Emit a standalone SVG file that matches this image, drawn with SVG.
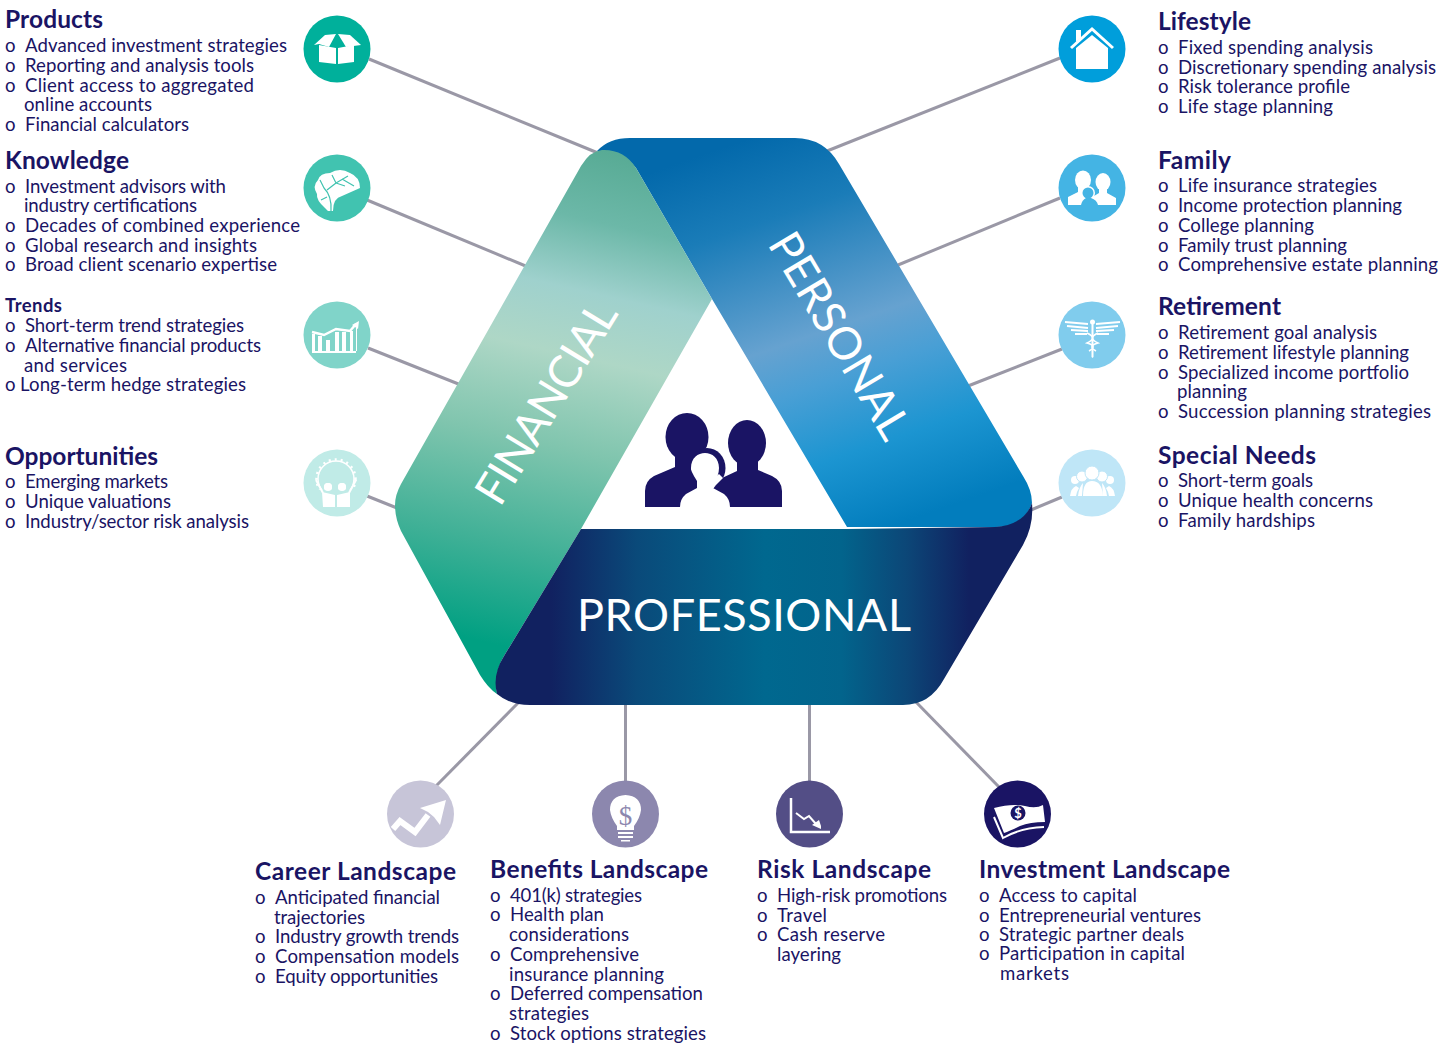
<svg xmlns="http://www.w3.org/2000/svg" width="1442" height="1046" viewBox="0 0 1442 1046">
<style>
text{font-family:"Lato","Liberation Sans",sans-serif;fill:#1a1464}
.t{font-size:24.500px;font-weight:700}
.s{font-size:18.500px;font-weight:700}
.i{font-size:18.600px}
.b{fill:#fff;font-size:45px;font-weight:400}
.c{stroke:#9a98a6;stroke-width:3;fill:none}
.w{fill:#fff}
.l{fill:none;stroke:#fff}
</style>
<defs>
<linearGradient id="gPer" gradientUnits="userSpaceOnUse" x1="745" y1="140" x2="880" y2="530">
<stop offset="0" stop-color="#0369ab"/><stop offset=".2" stop-color="#1a7cb8"/><stop offset=".5" stop-color="#66a2d0"/><stop offset=".62" stop-color="#499fd5"/><stop offset=".8" stop-color="#1c95d1"/><stop offset="1" stop-color="#027dbd"/>
</linearGradient>
<linearGradient id="gFin" gradientUnits="userSpaceOnUse" x1="600" y1="150" x2="480" y2="680">
<stop offset="0" stop-color="#58ab95"/><stop offset=".13" stop-color="#6cb8a8"/><stop offset=".26" stop-color="#9fd1cd"/><stop offset=".38" stop-color="#aed7c6"/><stop offset=".55" stop-color="#80c5ae"/><stop offset=".75" stop-color="#3fb096"/><stop offset=".93" stop-color="#00a082"/><stop offset="1" stop-color="#00a082"/>
</linearGradient>
<linearGradient id="gPro" gradientUnits="userSpaceOnUse" x1="510" y1="0" x2="1020" y2="0">
<stop offset="0" stop-color="#112160"/><stop offset=".08" stop-color="#112160"/><stop offset=".25" stop-color="#0a4a7a"/><stop offset=".5" stop-color="#00688f"/><stop offset=".65" stop-color="#02648c"/><stop offset=".78" stop-color="#0c4677"/><stop offset=".9" stop-color="#112160"/><stop offset="1" stop-color="#112160"/>
</linearGradient>
</defs>

<g id="connectors">
<line class="c" x1="369" y1="59" x2="598" y2="153"/>
<line class="c" x1="367" y1="200" x2="528" y2="267"/>
<line class="c" x1="368" y1="348" x2="461" y2="385"/>
<line class="c" x1="367" y1="496" x2="397" y2="508"/>
<line class="c" x1="1060" y1="58" x2="827" y2="151"/>
<line class="c" x1="1060" y1="198" x2="898" y2="265"/>
<line class="c" x1="1062" y1="349" x2="968" y2="386"/>
<line class="c" x1="1062" y1="497" x2="1031" y2="510"/>
<line class="c" x1="436" y1="786" x2="519" y2="702"/>
<line class="c" x1="625.500" y1="781" x2="625.500" y2="704"/>
<line class="c" x1="809.500" y1="781" x2="809.500" y2="704"/>
<line class="c" x1="999" y1="787" x2="915" y2="701"/>
</g>

<g id="triangle">
<path id="band-personal" fill="url(#gPer)" d="M597 151Q609 138 630 138H795Q824 138 839 164L1023 476Q1032 490 1032 503Q1024 527 995 527H847L712 299L636 168Q622 150 597 151Z"/>
<path id="band-financial" fill="url(#gFin)" d="M602 150Q624 149 636 168L712 299L581 529L504 656Q494 672 497 694Q488 688 480 675L401 531Q395 518 395 505Q395 495 401 484L581 166Q590 151 602 150Z"/>
<path id="band-professional" fill="url(#gPro)" d="M581 529H847L995 527Q1024 525 1032 503Q1034 525 1023 545L944 679Q930 705 903 705H530Q510 705 497 694Q492 675 504 656Z"/>
<text class="b" transform="translate(500,508) rotate(-58.500)" textLength="228" lengthAdjust="spacing">FINANCIAL</text>
<text class="b" transform="translate(767,244) rotate(59.300)" textLength="232" lengthAdjust="spacing">PERSONAL</text>
<text class="b" x="577" y="631" textLength="334" lengthAdjust="spacing">PROFESSIONAL</text>
</g>

<g id="center-people">
<ellipse cx="687" cy="437" rx="21.500" ry="24" fill="#1a1464"/>
<ellipse cx="747" cy="443" rx="19" ry="23" fill="#1a1464"/>
<ellipse cx="707" cy="468" rx="18.500" ry="20" fill="#1a1464"/>
<path fill="#1a1464" d="M675 455V467L654 476Q645 481 645 491V507H700V470L697 455Z"/>
<path fill="#1a1464" d="M737 460V471L722 478L712 490V507H782V491Q782 481 772 476L758 470V460Z"/>
<path class="w" d="M697 481Q690 470 691 468C691 458 698 453 705 453C712 453 719 458 719 468Q719 476 713 484L713 488L724 494Q730 499 730 507H680Q680 499 686 494L697 488Z"/>
<path class="w" d="M713 488L723 478L719 474L712 480Z"/>
</g>

<g id="products">
<circle cx="337" cy="49" r="33.500" fill="#00b09b"/>
<g class="w"><path d="M319 45L336 48V64L319 62Z"/><path d="M338 48L354 45V62L338 64Z"/><path d="M314 45L325 35L336 34L329 47L319 44Z"/><path d="M338 34L350 35L361 45L346 47Z"/></g>
<text class="t" x="5" y="28" textLength="98">Products</text>
<text class="i" x="5" y="52">o<tspan x="25" textLength="262">Advanced investment strategies</tspan></text>
<text class="i" x="5" y="72">o<tspan x="25" textLength="229">Reporting and analysis tools</tspan></text>
<text class="i" x="5" y="92">o<tspan x="25" textLength="229">Client access to aggregated</tspan></text>
<text class="i" x="24" y="111" textLength="128">online accounts</text>
<text class="i" x="5" y="131">o<tspan x="25" textLength="164">Financial calculators</tspan></text>
</g>

<g id="knowledge">
<circle cx="337" cy="188" r="33.500" fill="#41c3b0"/>
<path class="w" d="M325 208Q316 200 317 194Q312 186 318 180Q320 173 330 173Q340 167 350 173Q360 177 360 188L342 196Q333 198 333 211H328Z"/>
<path d="M331 211Q332 196 324 188M327 197L321 200M327 190L336 183L332 175M336 183L348 176M342 179L354 186M336 183L345 186M324 188L320 180" fill="none" stroke="#41c3b0" stroke-width="1.200"/>
<text class="t" x="5" y="169" textLength="124">Knowledge</text>
<text class="i" x="5" y="193">o<tspan x="25" textLength="201">Investment advisors with</tspan></text>
<text class="i" x="24" y="212" textLength="173">industry certifications</text>
<text class="i" x="5" y="232">o<tspan x="25" textLength="275">Decades of combined experience</tspan></text>
<text class="i" x="5" y="252">o<tspan x="25" textLength="232">Global research and insights</tspan></text>
<text class="i" x="5" y="271">o<tspan x="25" textLength="252">Broad client scenario expertise</tspan></text>
</g>

<g id="trends">
<circle cx="337" cy="335" r="33.500" fill="#80d4c9"/>
<path class="w" d="M312 353V334H315V351H318V336H322V351H326V340H330V351H335V332H339V351H342V332H346V351H350V331H353V351H357V328H356V353Z"/>
<path class="l" stroke-width="2.500" d="M312 332L324 335L336 329L350 331L356 324"/>
<path class="w" d="M352 325L359 321L358 329Z"/>
<text class="s" x="5" y="312" textLength="57">Trends</text>
<text class="i" x="5" y="332">o<tspan x="25" textLength="219">Short-term trend strategies</tspan></text>
<text class="i" x="5" y="352">o<tspan x="25" textLength="236">Alternative financial products</tspan></text>
<text class="i" x="24" y="372" textLength="103">and services</text>
<text class="i" x="5" y="391">o<tspan x="20" textLength="226">Long-term hedge strategies</tspan></text>
</g>

<g id="opportunities">
<circle cx="337" cy="483" r="33.500" fill="#c0ebe7"/>
<circle cx="336" cy="479" r="18" fill="none" stroke="#fff" stroke-width="1.500"/>
<circle cx="336" cy="479" r="19.500" fill="none" stroke="#fff" stroke-width="2.500" stroke-dasharray="2 4"/>
<circle class="w" cx="328" cy="487" r="4"/><circle class="w" cx="342" cy="487" r="4"/>
<path fill="#c0ebe7" d="M318 490H354V510H318Z"/>
<path class="w" d="M322 492L335 495V507H323ZM337 495L350 492V507H337Z"/>
<circle class="w" cx="328" cy="487" r="4"/><circle class="w" cx="342" cy="487" r="4"/>
<path class="l" stroke-width="2" d="M316 480L323 493M356 480L349 493"/>
<text class="t" x="5" y="465" textLength="153">Opportunities</text>
<text class="i" x="5" y="488">o<tspan x="25" textLength="143">Emerging markets</tspan></text>
<text class="i" x="5" y="508">o<tspan x="25" textLength="146">Unique valuations</tspan></text>
<text class="i" x="5" y="528">o<tspan x="25" textLength="224">Industry/sector risk analysis</tspan></text>
</g>

<g id="lifestyle">
<circle cx="1092" cy="49" r="33.500" fill="#009edb"/>
<path class="w" d="M1076 30H1081V38L1076 42ZM1076 48L1092 35L1108 48V69H1076Z"/>
<path class="l" stroke-width="3" d="M1071 48L1092 29L1113 48"/>
<text class="t" x="1158" y="30" textLength="93">Lifestyle</text>
<text class="i" x="1158" y="54">o<tspan x="1178" textLength="195">Fixed spending analysis</tspan></text>
<text class="i" x="1158" y="74">o<tspan x="1178" textLength="258">Discretionary spending analysis</tspan></text>
<text class="i" x="1158" y="93">o<tspan x="1178" textLength="172">Risk tolerance profile</tspan></text>
<text class="i" x="1158" y="113">o<tspan x="1178" textLength="155">Life stage planning</tspan></text>
</g>

<g id="family">
<circle cx="1092" cy="188" r="33.500" fill="#44b4e4"/>
<g class="w"><ellipse cx="1083" cy="180" rx="8" ry="9.500"/><ellipse cx="1103" cy="182" rx="7.500" ry="9"/>
<path d="M1068 205V197L1078 192V186H1089V192L1094 194V205ZM1099 188H1107V193L1116 198V205H1094V196L1099 193Z"/></g>
<circle cx="1088" cy="193" r="7" fill="#fff"/>
<circle cx="1088" cy="193" r="5.500" fill="#44b4e4"/>
<path fill="#44b4e4" d="M1081 205Q1082 200 1086 198H1091Q1097 200 1098 205Z"/>
<text class="t" x="1158" y="169" textLength="73">Family</text>
<text class="i" x="1158" y="192">o<tspan x="1178" textLength="199">Life insurance strategies</tspan></text>
<text class="i" x="1158" y="212">o<tspan x="1178" textLength="224">Income protection planning</tspan></text>
<text class="i" x="1158" y="232">o<tspan x="1178" textLength="136">College planning</tspan></text>
<text class="i" x="1158" y="252">o<tspan x="1178" textLength="169">Family trust planning</tspan></text>
<text class="i" x="1158" y="271">o<tspan x="1178" textLength="260">Comprehensive estate planning</tspan></text>
</g>

<g id="retirement">
<circle cx="1092" cy="335" r="33.500" fill="#80cced"/>
<path class="l" stroke-width="2" d="M1088 324L1065 322M1088 328L1067 326M1088 331L1071 330M1087 334L1075 334M1096 324L1120 322M1096 328L1118 326M1096 331L1114 330M1097 334L1109 334"/>
<path class="w" d="M1091.500 322H1093.500V357L1092.500 358L1091.500 357Z"/>
<circle class="w" cx="1092.500" cy="322" r="2.500"/>
<path class="l" stroke-width="1.500" d="M1087 333Q1098 338 1087 343Q1098 346 1089 351M1098 333Q1087 338 1098 343Q1087 346 1096 351"/>
<text class="t" x="1158" y="315" textLength="123">Retirement</text>
<text class="i" x="1158" y="339">o<tspan x="1178" textLength="199">Retirement goal analysis</tspan></text>
<text class="i" x="1158" y="359">o<tspan x="1178" textLength="231">Retirement lifestyle planning</tspan></text>
<text class="i" x="1158" y="379">o<tspan x="1178" textLength="231">Specialized income portfolio</tspan></text>
<text class="i" x="1177" y="398" textLength="70">planning</text>
<text class="i" x="1158" y="418">o<tspan x="1178" textLength="253">Succession planning strategies</tspan></text>
</g>

<g id="special-needs">
<circle cx="1092" cy="483" r="33.500" fill="#bfe6f7"/>
<circle class="w" cx="1075" cy="480" r="4"/><circle class="w" cx="1110" cy="480" r="4"/>
<circle class="w" cx="1082" cy="476.500" r="5.500" stroke="#bfe6f7"/><circle class="w" cx="1102" cy="476.500" r="5.500" stroke="#bfe6f7"/>
<circle class="w" cx="1092" cy="473" r="7" stroke="#bfe6f7"/>
<path class="w" d="M1083 496Q1083 481 1092 481Q1102 481 1103 496ZM1070 496Q1071 488 1076 486L1079 488Q1077 491 1076 496ZM1115 496Q1114 488 1109 486L1106 488Q1108 491 1109 496ZM1078 496Q1079 487 1083 483L1082 496ZM1107 496Q1106 487 1102 483L1103 496Z"/>
<text class="t" x="1158" y="464" textLength="158">Special Needs</text>
<text class="i" x="1158" y="487">o<tspan x="1178" textLength="135">Short-term goals</tspan></text>
<text class="i" x="1158" y="507">o<tspan x="1178" textLength="195">Unique health concerns</tspan></text>
<text class="i" x="1158" y="527">o<tspan x="1178" textLength="137">Family hardships</tspan></text>
</g>

<g id="career">
<circle cx="420.500" cy="814" r="33.500" fill="#c7c5d8"/>
<path class="l" stroke-width="6" d="M393 829L400 821L415 832L428 815"/>
<path class="w" d="M420 808L446 800L440 825L434 817L428 812Z"/>
<text class="t" x="255" y="880" textLength="201">Career Landscape</text>
<text class="i" x="255" y="904">o<tspan x="275" textLength="165">Anticipated financial</tspan></text>
<text class="i" x="274" y="924" textLength="91">trajectories</text>
<text class="i" x="255" y="943">o<tspan x="275" textLength="184">Industry growth trends</tspan></text>
<text class="i" x="255" y="963">o<tspan x="275" textLength="184">Compensation models</tspan></text>
<text class="i" x="255" y="983">o<tspan x="275" textLength="163">Equity opportunities</tspan></text>
</g>

<g id="benefits">
<circle cx="625.500" cy="814" r="33.500" fill="#8c87ae"/>
<path class="w" d="M625.500 795Q641 796 641 810Q640 818 634 826V830H617V826Q611 818 610 810Q610 796 625.500 795Z"/>
<path class="w" d="M618 832H633V834H618ZM618 836H633V838H618ZM621 840H630V841.500H621Z"/>
<text x="625.500" y="825" text-anchor="middle" style="font-family:'Liberation Serif',serif;font-size:27px;fill:#8c87ae">$</text>
<text class="t" x="490" y="878" textLength="218">Benefits Landscape</text>
<text class="i" x="490" y="902">o<tspan x="510" textLength="132">401(k) strategies</tspan></text>
<text class="i" x="490" y="921">o<tspan x="510" textLength="94">Health plan</tspan></text>
<text class="i" x="509" y="941" textLength="120">considerations</text>
<text class="i" x="490" y="961">o<tspan x="510" textLength="129">Comprehensive</tspan></text>
<text class="i" x="509" y="981" textLength="155">insurance planning</text>
<text class="i" x="490" y="1000">o<tspan x="510" textLength="193">Deferred compensation</tspan></text>
<text class="i" x="509" y="1020" textLength="80">strategies</text>
<text class="i" x="490" y="1040">o<tspan x="510" textLength="196">Stock options strategies</tspan></text>
</g>

<g id="risk">
<circle cx="809.500" cy="814" r="33.500" fill="#534e86"/>
<path class="l" stroke-width="2.500" d="M791 798V832H830"/>
<path class="l" stroke-width="2" d="M796 813L804 819L809 816L816 824"/>
<path class="w" d="M812 825L819 820L821 826L821 829Z"/>
<text class="t" x="757" y="878" textLength="174">Risk Landscape</text>
<text class="i" x="757" y="902">o<tspan x="777" textLength="170">High-risk promotions</tspan></text>
<text class="i" x="757" y="922">o<tspan x="777" textLength="50">Travel</tspan></text>
<text class="i" x="757" y="941">o<tspan x="777" textLength="108">Cash reserve</tspan></text>
<text class="i" x="777" y="961" textLength="64">layering</text>
</g>

<g id="investment">
<circle cx="1017.500" cy="814" r="33.500" fill="#1a1464"/>
<path class="w" d="M994 808Q1012 803 1025 806Q1036 809 1043 805L1045 822Q1030 822 1020 826Q1010 831 1004 833Z"/>
<path class="l" stroke-width="2" d="M994 817L1003 838Q1020 828 1044 827"/>
<circle cx="1018" cy="813" r="7.500" fill="#1a1464"/>
<text x="1018" y="818" text-anchor="middle" style="font-size:13px;font-weight:700;fill:#fff">$</text>
<text class="t" x="979" y="878" textLength="251">Investment Landscape</text>
<text class="i" x="979" y="902">o<tspan x="999" textLength="138">Access to capital</tspan></text>
<text class="i" x="979" y="922">o<tspan x="999" textLength="202">Entrepreneurial ventures</tspan></text>
<text class="i" x="979" y="941">o<tspan x="999" textLength="185">Strategic partner deals</tspan></text>
<text class="i" x="979" y="960">o<tspan x="999" textLength="186">Participation in capital</tspan></text>
<text class="i" x="1000" y="980" textLength="69">markets</text>
</g>
</svg>
